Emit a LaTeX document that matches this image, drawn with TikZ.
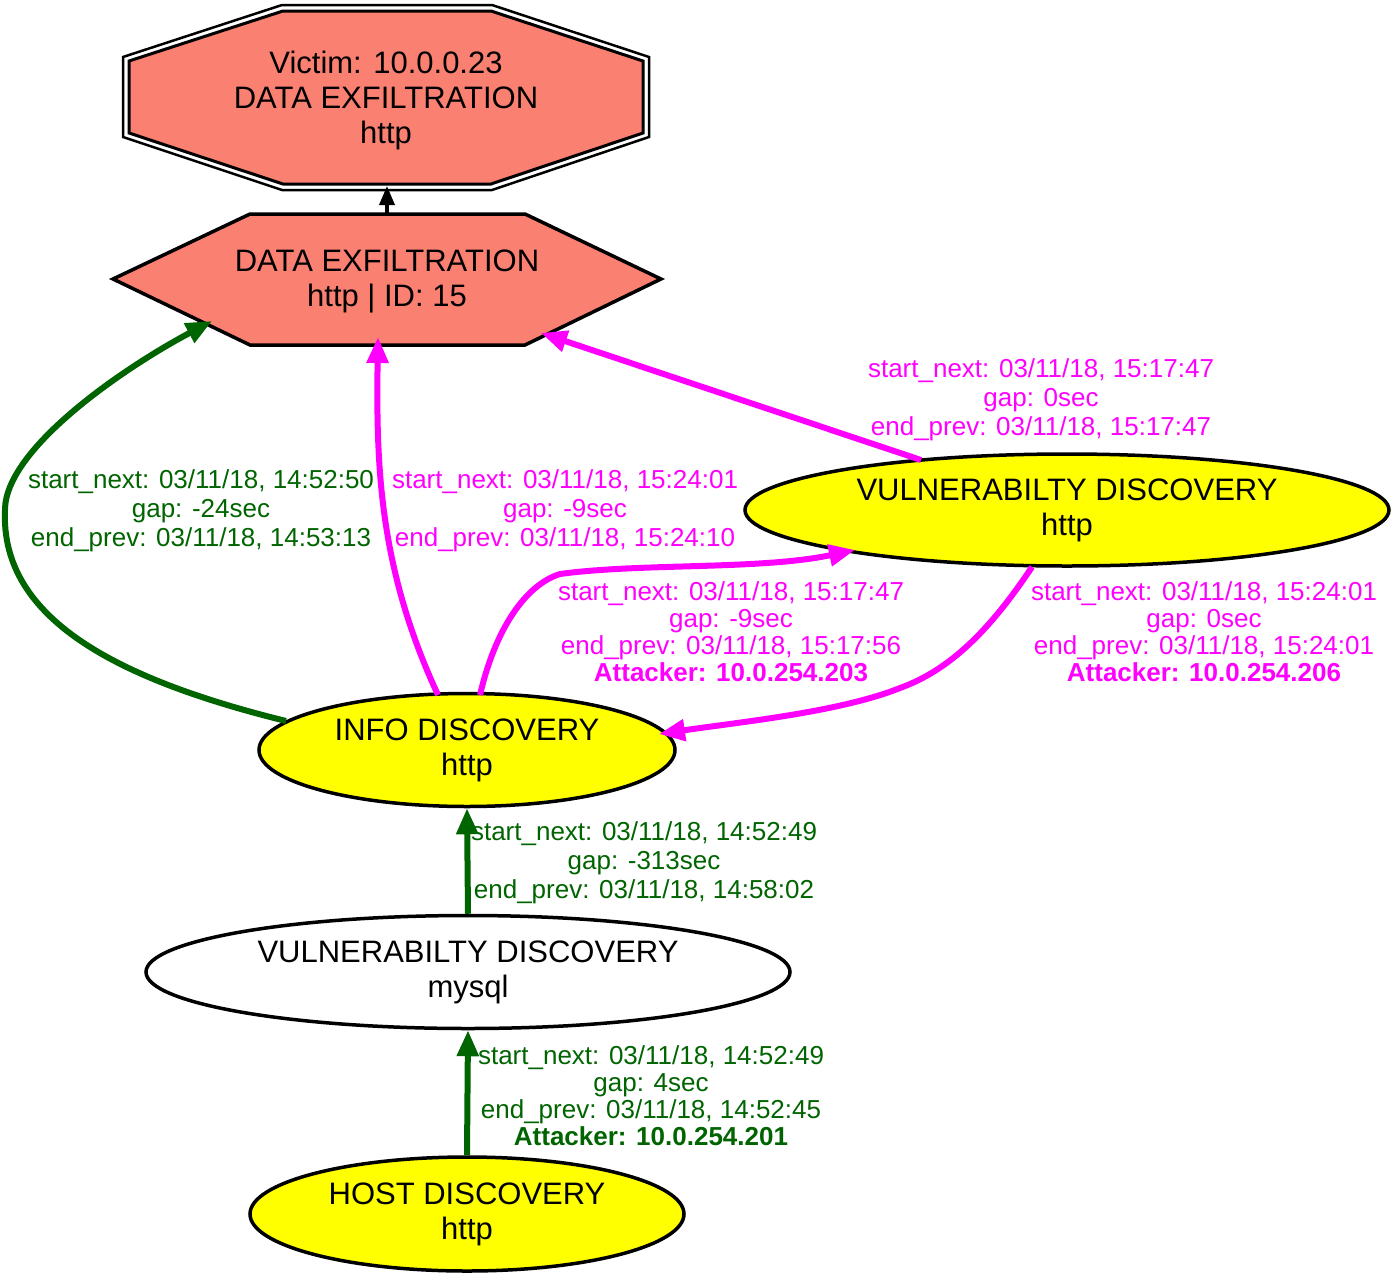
\documentclass[tikz,border=0pt]{standalone}
\usepackage{fontspec}
\setmainfont{Liberation Sans}
\usetikzlibrary{shapes.geometric,arrows.meta}
\definecolor{dgreen}{HTML}{006400}
\definecolor{magenta}{HTML}{FF00FF}
\definecolor{salmon}{HTML}{FA8072}
\definecolor{yel}{HTML}{FFFF00}
\tikzset{
  ell/.style={ellipse, draw=black, line width=3.5pt, inner sep=0pt, align=center, font=\fontsize{31}{35}\selectfont},
  ntext/.style={inner sep=0pt, align=center, font=\fontsize{31}{35}\selectfont},
  lab/.style={inner sep=0pt, align=center, font=\fontsize{26}{29}\selectfont},
  labb/.style={inner sep=0pt, align=center, font=\fontsize{26}{27}\selectfont},
  gedge/.style={draw=dgreen, line width=6pt, -{Triangle[length=26pt,width=21pt]}},
  medge/.style={draw=magenta, line width=6pt, -{Triangle[length=26pt,width=21pt]}},
  bedge/.style={draw=black, line width=3.5pt, -{Triangle[length=19pt,width=15pt]}},
}
\begin{document}
\begin{tikzpicture}[x=1pt,y=-1pt]
\useasboundingbox (0,0) rectangle (1395,1277);
% victim double octagon
\draw[line width=2.5pt] (123,57) -- (282,5) -- (492,5) -- (649,57) -- (649,137) -- (492,190) -- (282,190) -- (123,137) -- cycle;
\draw[line width=3pt, fill=salmon] (129,61) -- (283,11) -- (491,11) -- (643,61) -- (643,133) -- (491,184) -- (283,184) -- (129,133) -- cycle;
\node[ntext] (victim) at (386,100) {Victim: 10.0.0.23\\DATA EXFILTRATION\\http};
\coordinate (victim-s) at (387,186);
% exfil hexagon
\draw[line width=3.5pt, fill=salmon] (113,279) -- (250,214) -- (525,214) -- (661,279) -- (525,345) -- (250,345) -- cycle;
\node[ntext] (exfil) at (387,281) {DATA EXFILTRATION\\http | ID: 15};
\coordinate (exfil-n) at (387,213);
\coordinate (exfil-a) at (212,321);
\coordinate (exfil-b) at (378,337);
\coordinate (exfil-c) at (541,333);
% ellipses
\node[ell, fill=yel, minimum width=644pt, minimum height=112pt] (vh) at (1067,510) {VULNERABILTY DISCOVERY\\http};
\node[ell, fill=yel, minimum width=416pt, minimum height=113pt] (info) at (467,750) {INFO DISCOVERY\\http};
\node[ell, fill=white, minimum width=644pt, minimum height=113pt] (vm) at (468,972) {VULNERABILTY DISCOVERY\\mysql};
\node[ell, fill=yel, minimum width=434pt, minimum height=114pt] (host) at (467,1214) {HOST DISCOVERY\\http};
\coordinate (info-a) at (286,721);
\coordinate (info-b) at (438,695);
\coordinate (info-c) at (480,695);
\coordinate (info-d) at (659,734);
\coordinate (vh-a) at (921,460);
\coordinate (vh-b) at (855,550);
\coordinate (vh-c) at (1032,567);
% edges
\draw[bedge] (exfil-n) -- (victim-s);
\draw[gedge] (info-a) .. controls (120,680) and (0,620) .. (5,510) .. controls (5,450) and (120,370) .. (exfil-a);
\draw[medge] (info-b) .. controls (380,570) and (376,470) .. (exfil-b);
\draw[medge] (vh-a) -- (exfil-c);
\draw[medge] (info-c) .. controls (495,630) and (525,585) .. (560,574) .. controls (640,563) and (760,570) .. (vh-b);
\draw[medge] (vh-c) .. controls (990,630) and (950,670) .. (900,688) .. controls (840,712) and (740,722) .. (info-d);
\draw[gedge] (vm.north) -- (info.south);
\draw[gedge] (host.north) -- (vm.south);
% labels
\node[lab, text=dgreen] (l1) at (201,511) {start\_next: 03/11/18, 14:52:50\\gap: -24sec\\end\_prev: 03/11/18, 14:53:13};
\node[lab, text=magenta] (l2) at (565,511) {start\_next: 03/11/18, 15:24:01\\gap: -9sec\\end\_prev: 03/11/18, 15:24:10};
\node[lab, text=magenta] (l3) at (1041,400) {start\_next: 03/11/18, 15:17:47\\gap: 0sec\\end\_prev: 03/11/18, 15:17:47};
\node[labb, text=magenta] (l4) at (731,632) {start\_next: 03/11/18, 15:17:47\\gap: -9sec\\end\_prev: 03/11/18, 15:17:56\\\textbf{Attacker: 10.0.254.203}};
\node[labb, text=magenta] (l5) at (1204,632) {start\_next: 03/11/18, 15:24:01\\gap: 0sec\\end\_prev: 03/11/18, 15:24:01\\\textbf{Attacker: 10.0.254.206}};
\node[lab, text=dgreen] (l6) at (644,863) {start\_next: 03/11/18, 14:52:49\\gap: -313sec\\end\_prev: 03/11/18, 14:58:02};
\node[labb, text=dgreen] (l7) at (651,1096) {start\_next: 03/11/18, 14:52:49\\gap: 4sec\\end\_prev: 03/11/18, 14:52:45\\\textbf{Attacker: 10.0.254.201}};
\end{tikzpicture}
\end{document}
